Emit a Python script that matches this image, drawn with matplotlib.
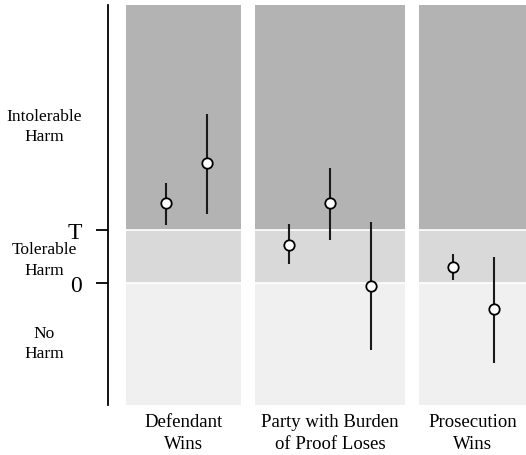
import numpy as np
import matplotlib.pyplot as plt
from matplotlib.transforms import blended_transform_factory

plt.rcParams['font.family'] = ['Liberation Serif', 'DejaVu Serif']

# Data (harm scale: 0 = no harm, 1 = tolerance threshold T)
groups = ["Defendant\nWins", "Party with Burden\nof Proof Loses", "Prosecution\nWins"]
x_pos = [0, 1, 3, 4, 5, 7, 8]
estimate = [1.50, 2.25, 0.73, 1.50, -0.04, 0.30, -0.48]
upper = [1.89, 3.17, 1.11, 2.16, 1.15, 0.55, 0.50]
lower = [1.09, 1.30, 0.37, 0.81, -1.25, 0.06, -1.49]
panel_left = [-0.98, 2.17, 6.17]
panel_right = [1.83, 5.83, 9.2]
region_labels = ["Intolerable\nHarm", "Tolerable\nHarm", "No\nHarm"]
region_y = [2.95, 0.45, -1.11]

ymin, ymax = -2.27, 5.22

fig = plt.figure(figsize=(5.26, 4.56), dpi=100)
ax = fig.add_axes([0.2053, 0.1107, 0.7947, 0.8760])
ax.set_xlim(-1.41, 8.78)
ax.set_ylim(ymin, ymax)

# shaded panels
for l, r in zip(panel_left, panel_right):
    ax.fill_between([l, r], 1, ymax, color='#b3b3b3', lw=0, zorder=0)
    ax.fill_between([l, r], 0, 1, color='#d9d9d9', lw=0, zorder=0)
    ax.fill_between([l, r], ymin, 0, color='#f0f0f0', lw=0, zorder=0)
    ax.plot([l, r], [1, 1], color='white', lw=1.2, zorder=1)
    ax.plot([l, r], [0, 0], color='white', lw=1.2, zorder=1)

# estimates with intervals
x = np.array(x_pos)
est = np.array(estimate)
ax.vlines(x, lower, upper, color='#1a1a1a', lw=1.5, zorder=2)
ax.plot(x, est, 'o', ms=7.5, mfc='white', mec='black', mew=1.3, zorder=3)

# axes styling
for s in ['top', 'right', 'bottom']:
    ax.spines[s].set_visible(False)
ax.spines['left'].set_linewidth(1.3)
ax.set_yticks([0, 1])
ax.set_yticklabels(['0', 'T'], fontsize=17)
ax.tick_params(axis='y', length=9, width=1.3, pad=10)
ax.set_xticks([])

trans = blended_transform_factory(ax.transData, ax.transAxes)
for i, g in enumerate(groups):
    cx = (panel_left[i] + min(panel_right[i], 8.78)) / 2
    ax.text(cx, -0.02, g, transform=trans, ha='center', va='top',
            fontsize=13.5, linespacing=1.4)

trans2 = blended_transform_factory(fig.transFigure, ax.transData)
for lab, yy in zip(region_labels, region_y):
    ax.text(44 / 526, yy, lab, transform=trans2, ha='center', va='center',
            fontsize=12.5, linespacing=1.35)

fig.savefig('out.png', dpi=100)
